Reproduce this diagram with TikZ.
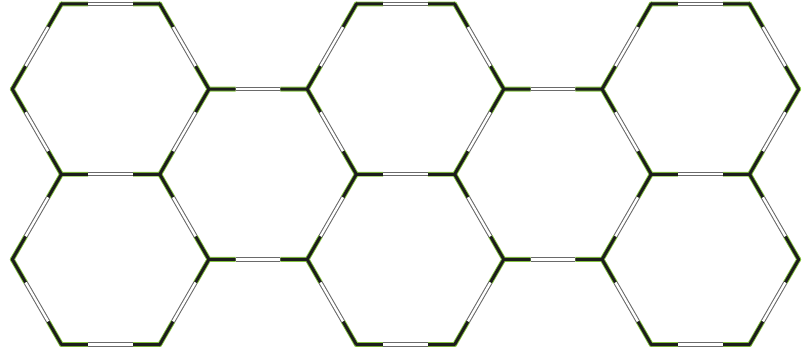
\documentclass[tikz,border=0pt]{standalone}
\usetikzlibrary{calc}
\definecolor{BondLeaf}{HTML}{86C440}
\definecolor{BondCore}{HTML}{1C1C1C}
\definecolor{BondPipe}{HTML}{6A6A6A}
\tikzset{
  halo/.style={draw=BondLeaf, line width=4.8pt},
  core/.style={draw=BondCore, line width=3.0pt},
  pipe/.style={draw=BondPipe, line width=1.05pt, double=white, double distance=2.3pt},
}
\newcommand\sidelen{98.3}
\newcommand\tipfrac{0.272}

\begin{document}
\begin{tikzpicture}[x=1pt,y=-1pt]
  \useasboundingbox (0,0) rectangle (812,352);
  % Hexagon corners: centre x = 110.6 + 294.9 i, centre y = 89.13 + 170.26 j
  \foreach \i in {0,1,2}
    \foreach \j in {0,1}
      \foreach \k in {0,...,5}
        \coordinate (c\i\j\k) at ($(110.6+294.9*\i,89.13+170.26*\j)+(60*\k:\sidelen)$);
  % Bond ends: halo under, dark core over (lower row skips the shared top side)
  \foreach \sty/\rad/\col in {halo/2.4/BondLeaf,core/1.5/BondCore}{
    \foreach \i in {0,1,2}
      \foreach \j/\sides in {0/{0/1,1/2,2/3,3/4,4/5,5/0},1/{0/1,1/2,2/3,3/4,5/0}}
        \foreach \k/\kk in \sides{
          \draw[\sty] (c\i\j\k) -- ($(c\i\j\k)!\tipfrac!(c\i\j\kk)$);
          \draw[\sty] (c\i\j\kk) -- ($(c\i\j\kk)!\tipfrac!(c\i\j\k)$);
          \fill[\col] (c\i\j\k) circle (\rad pt);
          \fill[\col] (c\i\j\kk) circle (\rad pt);
        }
    % Horizontal links between neighbouring hexagons
    \foreach \i/\m in {0/1,1/2}
      \foreach \j in {0,1}{
        \draw[\sty] (c\i\j0) -- ($(c\i\j0)!\tipfrac!(c\m\j3)$);
        \draw[\sty] (c\m\j3) -- ($(c\m\j3)!\tipfrac!(c\i\j0)$);
      }
  }
  % Hollow middles of the bonds
  \foreach \i in {0,1,2}
    \foreach \j/\sides in {0/{0/1,1/2,2/3,3/4,4/5,5/0},1/{0/1,1/2,2/3,3/4,5/0}}
      \foreach \k/\kk in \sides
        \draw[pipe] ($(c\i\j\k)!\tipfrac!(c\i\j\kk)$) -- ($(c\i\j\kk)!\tipfrac!(c\i\j\k)$);
  \foreach \i/\m in {0/1,1/2}
    \foreach \j in {0,1}
      \draw[pipe] ($(c\i\j0)!\tipfrac!(c\m\j3)$) -- ($(c\m\j3)!\tipfrac!(c\i\j0)$);
\end{tikzpicture}
\end{document}
